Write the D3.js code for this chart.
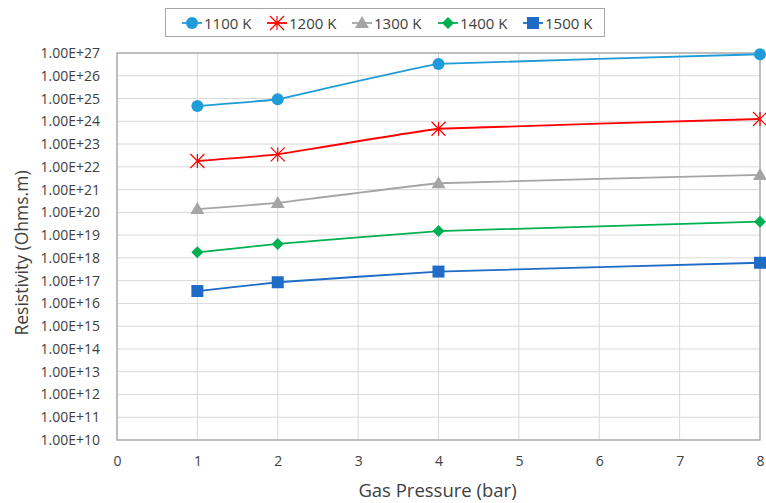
<!DOCTYPE html>
<html lang="en">
<head>
<meta charset="UTF-8">
<title>Resistivity vs gas pressure</title>
<script src="https://d3js.org/d3.v7.min.js"></script>
<style>
    body { margin: 0; background: #fff; }
    text { font-family: "Open Sans", "Liberation Sans", sans-serif; fill: #404040; }
</style>
</head>
<body>
<div id="figure" style="width:766px;height:503px"></div>
<script>
    // data
    const pressures = [1, 2, 4, 8];
    const seriesNames = ["1100 K", "1200 K", "1300 K", "1400 K", "1500 K"];
    const r1100 = [4.7e24, 9.3e24, 3.3e26, 8.8e26];
    const r1200 = [1.8e22, 3.5e22, 4.7e23, 1.26e24];
    const r1300 = [1.4e20, 2.6e20, 1.9e21, 4.4e21];
    const r1400 = [1.75e18, 4.1e18, 1.5e19, 3.9e19];
    const r1500 = [3.5e16, 8.5e16, 2.5e17, 6.1e17];
    const xTicks = [0, 1, 2, 3, 4, 5, 6, 7, 8];
    const yExps = d3.range(10, 28); // 1e10 .. 1e27

    const colors = ["#1f9bd8", "#ff0000", "#a5a5a5", "#00b050", "#1f6cc6"];
    const markers = ["circle", "star", "triangle", "diamond", "square"];
    const allValues = [r1100, r1200, r1300, r1400, r1500];

    let w = 766, h = 503;
    let plotL = 117, plotR = 760, plotT = 53, plotB = 440;

    let svg = d3.select("#figure").append("svg")
        .attr("width", w)
        .attr("height", h);

    let x = d3.scaleLinear().domain([0, 8]).range([plotL, plotR]);
    let y = d3.scaleLog().domain([1e10, 1e27]).range([plotB, plotT]);

    // gridlines
    let grid = svg.append("g");
    grid.selectAll(".hg").data(yExps).enter().append("line")
        .attr("x1", plotL).attr("x2", plotR)
        .attr("y1", d => y(Math.pow(10, d))).attr("y2", d => y(Math.pow(10, d)))
        .style("stroke", "#d9d9d9").style("stroke-width", 1);
    grid.selectAll(".vg").data(xTicks).enter().append("line")
        .attr("y1", plotT).attr("y2", plotB)
        .attr("x1", d => x(d)).attr("x2", d => x(d))
        .style("stroke", "#d9d9d9").style("stroke-width", 1);

    // plot frame
    svg.append("rect")
        .attr("x", plotL).attr("y", plotT)
        .attr("width", plotR - plotL).attr("height", plotB - plotT)
        .style("fill", "none").style("stroke", "#a6a6a6").style("stroke-width", 1.3);

    // axes labels
    let yAxis = d3.axisLeft(y)
        .tickValues(yExps.map(e => Math.pow(10, e)))
        .tickFormat(d => "1.00E+" + Math.round(Math.log10(d)))
        .tickSize(0).tickPadding(17);
    svg.append("g").attr("transform", `translate(${plotL},0)`).call(yAxis)
        .call(g => g.select(".domain").remove())
        .selectAll("text").style("font-size", "14px").style("fill", "#404040");

    let xAxis = d3.axisBottom(x).tickValues(xTicks).tickSize(0).tickPadding(16);
    svg.append("g").attr("transform", `translate(0,${plotB})`).call(xAxis)
        .call(g => g.select(".domain").remove())
        .selectAll("text").style("font-size", "14px").style("fill", "#404040");

    svg.append("text")
        .attr("x", (plotL + plotR) / 2 - 1).attr("y", 497)
        .attr("text-anchor", "middle")
        .style("font-size", "18.5px")
        .text("Gas Pressure (bar)");
    svg.append("text")
        .attr("transform", `translate(28,253) rotate(-90)`)
        .attr("text-anchor", "middle")
        .style("font-size", "17.5px")
        .text("Resistivity (Ohms.m)");

    function drawMarker(g, type, color) {
        if (type === "circle") {
            g.append("circle").attr("r", 6).style("fill", color);
        } else if (type === "square") {
            g.append("rect").attr("x", -6).attr("y", -6).attr("width", 12).attr("height", 12).style("fill", color);
        } else if (type === "triangle") {
            g.append("path").attr("d", "M0,-7L7,5L-7,5Z").style("fill", color);
        } else if (type === "diamond") {
            g.append("path").attr("d", "M0,-6L6,0L0,6L-6,0Z").style("fill", color);
        } else if (type === "star") {
            let s = 7;
            g.append("path")
                .attr("d", `M${-s},${-s}L${s},${s}M${-s},${s}L${s},${-s}M0,${-s}L0,${s}`)
                .style("stroke", color).style("stroke-width", 1.2).style("fill", "none");
        }
    }

    let line = d3.line()
        .x(d => x(d[0]))
        .y(d => y(d[1]))
        .curve(d3.curveCardinal.tension(0.85));

    let plot = svg.append("g");
    allValues.forEach((vals, i) => {
        let pts = pressures.map((p, k) => [p, vals[k]]);
        plot.append("path")
            .datum(pts)
            .attr("d", line)
            .style("fill", "none")
            .style("stroke", colors[i])
            .style("stroke-width", 1.8);
        pts.forEach(pt => {
            let g = plot.append("g").attr("transform", `translate(${x(pt[0])},${y(pt[1])})`);
            drawMarker(g, markers[i], colors[i]);
        });
    });

    // legend
    let legend = svg.append("g");
    legend.append("rect")
        .attr("x", 165.5).attr("y", 8.5).attr("width", 439).attr("height", 28)
        .style("fill", "#fff").style("stroke", "#a6a6a6").style("stroke-width", 1);
    let itemX = [186, 271, 356, 442, 527];
    seriesNames.forEach((name, i) => {
        let g = legend.append("g").attr("transform", `translate(${itemX[i]},23)`);
        g.append("line").attr("x1", -4).attr("x2", 16)
            .style("stroke", colors[i]).style("stroke-width", 1.8);
        let m = g.append("g").attr("transform", "translate(6,0)");
        drawMarker(m, markers[i], colors[i]);
        g.append("text").attr("x", 18).attr("y", 5.5)
            .style("font-size", "15px")
            .text(name);
    });
</script>
</body>
</html>
